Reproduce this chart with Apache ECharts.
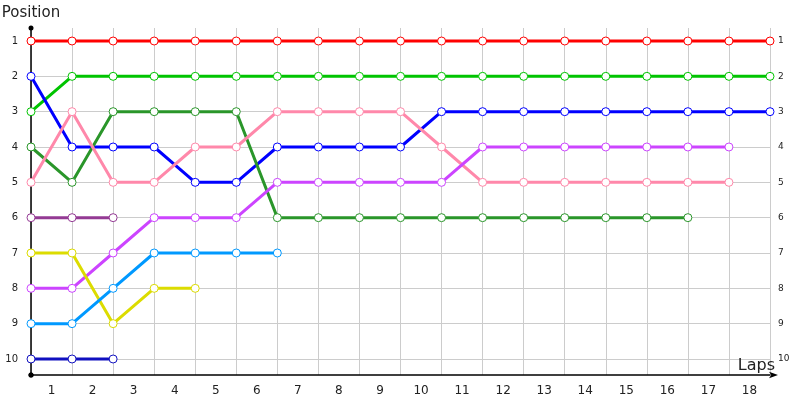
<!DOCTYPE html>
<html>
<head>
  <meta charset="utf-8" />
  <title>Lap chart</title>
  <script src="https://cdn.jsdelivr.net/npm/echarts@6/dist/echarts.min.js"></script>
  <style>
    html, body { margin: 0; padding: 0; background: #fff; }
  </style>
</head>
<body>
<div id="main" style="width:800px;height:400px;"></div>
<script type="text/javascript">
  // lap labels along the bottom (between the grid lines)
  var lapLabels = ['1','2','3','4','5','6','7','8','9','10','11','12','13','14','15','16','17','18'];

  // position per lap, index 0 = starting grid
  var redPos       = [1,1,1,1,1,1,1,1,1,1,1,1,1,1,1,1,1,1,1];
  var greenPos     = [3,2,2,2,2,2,2,2,2,2,2,2,2,2,2,2,2,2,2];
  var bluePos      = [2,4,4,4,5,5,4,4,4,4,3,3,3,3,3,3,3,3,3];
  var darkGreenPos = [4,5,3,3,3,3,6,6,6,6,6,6,6,6,6,6,6];
  var pinkPos      = [5,3,5,5,4,4,3,3,3,3,4,5,5,5,5,5,5,5];
  var violetPos    = [8,8,7,6,6,6,5,5,5,5,5,4,4,4,4,4,4,4];
  var plumPos      = [6,6,6];
  var yellowPos    = [7,7,9,8,8];
  var skyPos       = [9,9,8,7,7,7,7];
  var navyPos      = [10,10,10];

  var allPos = [redPos, greenPos, bluePos, darkGreenPos, pinkPos, violetPos, plumPos, yellowPos, skyPos, navyPos];
  var colors = ['#ff0000', '#00c400', '#0000ff', '#2a962a', '#ff88aa', '#cc44ff', '#943a94', '#dcdc00', '#0099ff', '#1010c0'];

  var font = 'DejaVu Sans, Verdana, sans-serif';

  var series = allPos.map(function (pos, k) {
    var c = colors[k];
    return {
      type: 'line',
      xAxisIndex: 0,
      yAxisIndex: 0,
      data: pos.map(function (p, i) { return [i, p]; }),
      symbol: 'circle',
      symbolSize: 8,
      showAllSymbol: true,
      lineStyle: { width: 3, color: c },
      itemStyle: { color: '#fff', borderColor: c, borderWidth: 1, opacity: 1 },
      emphasis: { disabled: true },
      z: 3
    };
  });

  var myChart = echarts.init(document.getElementById('main'));
  var option = {
    backgroundColor: '#fff',
    animation: false,
    grid: { left: 31, right: 30, top: 28, bottom: 25, containLabel: false, outerBoundsMode: 'none' },
    xAxis: [
      {
        type: 'value',
        min: 0,
        max: 18,
        interval: 1,
        name: 'Laps',
        nameLocation: 'end',
        nameGap: 5,
        nameMoveOverlap: false,
        nameTextStyle: { fontFamily: font, fontSize: 16, color: '#222', align: 'right', verticalAlign: 'bottom', padding: [0, 0, 1, 0] },
        axisLine: { show: true, lineStyle: { color: '#000', width: 1.5 }, symbol: ['circle', 'arrow'], symbolSize: [5, 9], symbolOffset: [0, 8] },
        axisTick: { show: false },
        axisLabel: { show: false },
        splitLine: { show: true, lineStyle: { color: '#cccccc', width: 1 } }
      },
      {
        type: 'category',
        data: lapLabels,
        boundaryGap: true,
        position: 'bottom',
        axisLine: { show: false },
        axisTick: { show: false },
        splitLine: { show: false },
        axisLabel: { fontFamily: font, fontSize: 12, color: '#222', margin: 10 }
      }
    ],
    yAxis: [
      {
        type: 'value',
        inverse: true,
        min: 0.632,
        max: 10.453,
        splitNumber: 10,
        minInterval: 1,
        maxInterval: 1,
        name: 'Position',
        nameLocation: 'start',
        nameGap: 7,
        nameMoveOverlap: false,
        nameTextStyle: { fontFamily: font, fontSize: 15, color: '#222', align: 'center', verticalAlign: 'bottom' },
        axisLine: { show: true, lineStyle: { color: '#000', width: 1.5 }, symbol: ['circle', 'circle'], symbolSize: [5, 5] },
        axisTick: { show: false },
        axisLabel: { fontFamily: font, fontSize: 10, color: '#222', margin: 13, showMinLabel: false, showMaxLabel: false },
        splitLine: { show: true, showMinLine: false, showMaxLine: false, lineStyle: { color: '#cccccc', width: 1 } }
      },
      {
        type: 'value',
        inverse: true,
        position: 'right',
        min: 0.632,
        max: 10.453,
        splitNumber: 10,
        minInterval: 1,
        maxInterval: 1,
        axisLine: { show: false },
        axisTick: { show: false },
        splitLine: { show: false },
        axisLabel: { fontFamily: font, fontSize: 9, color: '#222', margin: 8, showMinLabel: false, showMaxLabel: false }
      }
    ],
    series: series
  };
  myChart.setOption(option);
</script>
</body>
</html>
